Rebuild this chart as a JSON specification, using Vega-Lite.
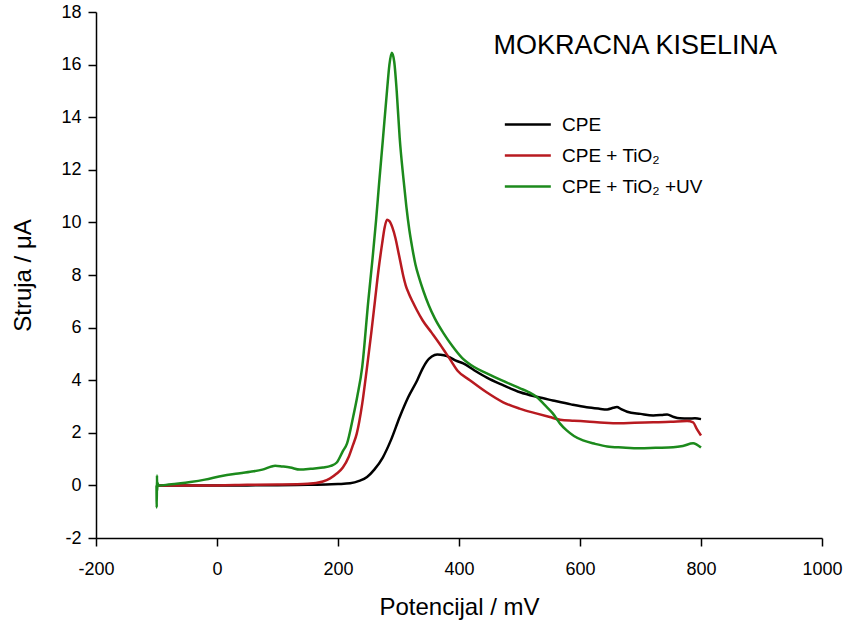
{
  "$schema": "https://vega.github.io/schema/vega-lite/v6.json",
  "width": 726,
  "height": 526,
  "autosize": "none",
  "padding": {"left": 96, "top": 12, "right": 23, "bottom": 90},
  "background": "white",
  "config": {
    "view": {"stroke": null},
    "font": "Liberation Sans",
    "axis": {
      "domainColor": "black", "domainWidth": 1.5,
      "tickColor": "black", "tickWidth": 1.5, "tickSize": 8,
      "labelFont": "Liberation Sans", "labelFontSize": 18, "labelColor": "black",
      "titleFont": "Liberation Sans", "titleFontSize": 24, "titleFontWeight": "normal", "titleColor": "black",
      "grid": false
    },
    "title": {"font": "Liberation Sans", "fontSize": 27, "fontWeight": "normal", "color": "black"}
  },
  "title": {"text": "MOKRACNA KISELINA", "anchor": "end", "orient": "top", "offset": -57, "dx": -45, "frame": "group"},
  "data": {"values": [
    {"s": "CPE", "x": -100, "y": 0},
    {"s": "CPE", "x": -50, "y": 0},
    {"s": "CPE", "x": 0, "y": 0},
    {"s": "CPE", "x": 50, "y": 0},
    {"s": "CPE", "x": 100, "y": 0.01},
    {"s": "CPE", "x": 150, "y": 0.02},
    {"s": "CPE", "x": 180, "y": 0.03},
    {"s": "CPE", "x": 200, "y": 0.05},
    {"s": "CPE", "x": 220, "y": 0.08},
    {"s": "CPE", "x": 235, "y": 0.17},
    {"s": "CPE", "x": 248, "y": 0.32},
    {"s": "CPE", "x": 260, "y": 0.6},
    {"s": "CPE", "x": 274, "y": 1.06},
    {"s": "CPE", "x": 288, "y": 1.75},
    {"s": "CPE", "x": 302, "y": 2.6},
    {"s": "CPE", "x": 316, "y": 3.35},
    {"s": "CPE", "x": 331, "y": 4.0},
    {"s": "CPE", "x": 340, "y": 4.45},
    {"s": "CPE", "x": 347, "y": 4.72},
    {"s": "CPE", "x": 355, "y": 4.9},
    {"s": "CPE", "x": 364, "y": 4.98},
    {"s": "CPE", "x": 375, "y": 4.95},
    {"s": "CPE", "x": 385, "y": 4.87},
    {"s": "CPE", "x": 395, "y": 4.74},
    {"s": "CPE", "x": 407, "y": 4.64},
    {"s": "CPE", "x": 425, "y": 4.38},
    {"s": "CPE", "x": 446, "y": 4.1},
    {"s": "CPE", "x": 470, "y": 3.84},
    {"s": "CPE", "x": 501, "y": 3.54},
    {"s": "CPE", "x": 530, "y": 3.36},
    {"s": "CPE", "x": 555, "y": 3.23},
    {"s": "CPE", "x": 585, "y": 3.08},
    {"s": "CPE", "x": 611, "y": 2.97},
    {"s": "CPE", "x": 630, "y": 2.92},
    {"s": "CPE", "x": 645, "y": 2.89},
    {"s": "CPE", "x": 655, "y": 2.95},
    {"s": "CPE", "x": 661, "y": 2.98},
    {"s": "CPE", "x": 668, "y": 2.9},
    {"s": "CPE", "x": 678, "y": 2.8},
    {"s": "CPE", "x": 700, "y": 2.72},
    {"s": "CPE", "x": 721, "y": 2.66},
    {"s": "CPE", "x": 735, "y": 2.68},
    {"s": "CPE", "x": 744, "y": 2.7},
    {"s": "CPE", "x": 755, "y": 2.6},
    {"s": "CPE", "x": 765, "y": 2.55},
    {"s": "CPE", "x": 780, "y": 2.54},
    {"s": "CPE", "x": 790, "y": 2.55},
    {"s": "CPE", "x": 800, "y": 2.52},

    {"s": "CPE + TiO₂", "x": -100, "y": 0},
    {"s": "CPE + TiO₂", "x": 0, "y": 0},
    {"s": "CPE + TiO₂", "x": 50, "y": 0.02},
    {"s": "CPE + TiO₂", "x": 100, "y": 0.03},
    {"s": "CPE + TiO₂", "x": 150, "y": 0.06},
    {"s": "CPE + TiO₂", "x": 175, "y": 0.15},
    {"s": "CPE + TiO₂", "x": 187, "y": 0.27},
    {"s": "CPE + TiO₂", "x": 198, "y": 0.45},
    {"s": "CPE + TiO₂", "x": 208, "y": 0.68},
    {"s": "CPE + TiO₂", "x": 218, "y": 1.1},
    {"s": "CPE + TiO₂", "x": 225, "y": 1.55},
    {"s": "CPE + TiO₂", "x": 231, "y": 1.97},
    {"s": "CPE + TiO₂", "x": 240, "y": 3.1},
    {"s": "CPE + TiO₂", "x": 248, "y": 4.5},
    {"s": "CPE + TiO₂", "x": 255, "y": 5.8},
    {"s": "CPE + TiO₂", "x": 261, "y": 7.0},
    {"s": "CPE + TiO₂", "x": 267, "y": 8.2},
    {"s": "CPE + TiO₂", "x": 273, "y": 9.2},
    {"s": "CPE + TiO₂", "x": 277, "y": 9.8},
    {"s": "CPE + TiO₂", "x": 281, "y": 10.1},
    {"s": "CPE + TiO₂", "x": 285, "y": 10.05},
    {"s": "CPE + TiO₂", "x": 290, "y": 9.8},
    {"s": "CPE + TiO₂", "x": 295, "y": 9.4},
    {"s": "CPE + TiO₂", "x": 300, "y": 8.85},
    {"s": "CPE + TiO₂", "x": 304, "y": 8.4},
    {"s": "CPE + TiO₂", "x": 308, "y": 7.95},
    {"s": "CPE + TiO₂", "x": 312, "y": 7.6},
    {"s": "CPE + TiO₂", "x": 317, "y": 7.3},
    {"s": "CPE + TiO₂", "x": 323, "y": 7.0},
    {"s": "CPE + TiO₂", "x": 330, "y": 6.68},
    {"s": "CPE + TiO₂", "x": 340, "y": 6.27},
    {"s": "CPE + TiO₂", "x": 355, "y": 5.8},
    {"s": "CPE + TiO₂", "x": 369, "y": 5.35},
    {"s": "CPE + TiO₂", "x": 385, "y": 4.8},
    {"s": "CPE + TiO₂", "x": 398, "y": 4.35},
    {"s": "CPE + TiO₂", "x": 418, "y": 4.0},
    {"s": "CPE + TiO₂", "x": 445, "y": 3.55},
    {"s": "CPE + TiO₂", "x": 473, "y": 3.16},
    {"s": "CPE + TiO₂", "x": 500, "y": 2.92},
    {"s": "CPE + TiO₂", "x": 529, "y": 2.73},
    {"s": "CPE + TiO₂", "x": 550, "y": 2.6},
    {"s": "CPE + TiO₂", "x": 567, "y": 2.5},
    {"s": "CPE + TiO₂", "x": 590, "y": 2.46},
    {"s": "CPE + TiO₂", "x": 611, "y": 2.43},
    {"s": "CPE + TiO₂", "x": 640, "y": 2.38},
    {"s": "CPE + TiO₂", "x": 666, "y": 2.36},
    {"s": "CPE + TiO₂", "x": 690, "y": 2.38},
    {"s": "CPE + TiO₂", "x": 721, "y": 2.4},
    {"s": "CPE + TiO₂", "x": 750, "y": 2.42},
    {"s": "CPE + TiO₂", "x": 777, "y": 2.45},
    {"s": "CPE + TiO₂", "x": 787, "y": 2.4},
    {"s": "CPE + TiO₂", "x": 793, "y": 2.15},
    {"s": "CPE + TiO₂", "x": 800, "y": 1.9},

    {"s": "CPE + TiO₂ +UV", "x": -100, "y": 0.0},
    {"s": "CPE + TiO₂ +UV", "x": -99.6, "y": -0.84},
    {"s": "CPE + TiO₂ +UV", "x": -99.2, "y": 0.38},
    {"s": "CPE + TiO₂ +UV", "x": -98.8, "y": -0.2},
    {"s": "CPE + TiO₂ +UV", "x": -98.4, "y": 0.1},
    {"s": "CPE + TiO₂ +UV", "x": -97, "y": 0.0},
    {"s": "CPE + TiO₂ +UV", "x": -80, "y": 0.03},
    {"s": "CPE + TiO₂ +UV", "x": -60, "y": 0.08},
    {"s": "CPE + TiO₂ +UV", "x": -44, "y": 0.13},
    {"s": "CPE + TiO₂ +UV", "x": -20, "y": 0.22},
    {"s": "CPE + TiO₂ +UV", "x": 10, "y": 0.37},
    {"s": "CPE + TiO₂ +UV", "x": 35, "y": 0.45},
    {"s": "CPE + TiO₂ +UV", "x": 55, "y": 0.52},
    {"s": "CPE + TiO₂ +UV", "x": 75, "y": 0.6},
    {"s": "CPE + TiO₂ +UV", "x": 90, "y": 0.72},
    {"s": "CPE + TiO₂ +UV", "x": 96, "y": 0.75},
    {"s": "CPE + TiO₂ +UV", "x": 108, "y": 0.72},
    {"s": "CPE + TiO₂ +UV", "x": 121, "y": 0.68},
    {"s": "CPE + TiO₂ +UV", "x": 137, "y": 0.6},
    {"s": "CPE + TiO₂ +UV", "x": 155, "y": 0.63},
    {"s": "CPE + TiO₂ +UV", "x": 175, "y": 0.68},
    {"s": "CPE + TiO₂ +UV", "x": 188, "y": 0.74},
    {"s": "CPE + TiO₂ +UV", "x": 198, "y": 0.87},
    {"s": "CPE + TiO₂ +UV", "x": 208, "y": 1.3},
    {"s": "CPE + TiO₂ +UV", "x": 215, "y": 1.6},
    {"s": "CPE + TiO₂ +UV", "x": 225, "y": 2.6},
    {"s": "CPE + TiO₂ +UV", "x": 232, "y": 3.4},
    {"s": "CPE + TiO₂ +UV", "x": 240, "y": 4.5},
    {"s": "CPE + TiO₂ +UV", "x": 250, "y": 7.0},
    {"s": "CPE + TiO₂ +UV", "x": 257, "y": 8.6},
    {"s": "CPE + TiO₂ +UV", "x": 263, "y": 10.1},
    {"s": "CPE + TiO₂ +UV", "x": 268, "y": 11.5},
    {"s": "CPE + TiO₂ +UV", "x": 274, "y": 13.1},
    {"s": "CPE + TiO₂ +UV", "x": 281, "y": 15.0},
    {"s": "CPE + TiO₂ +UV", "x": 285, "y": 16.0},
    {"s": "CPE + TiO₂ +UV", "x": 289, "y": 16.45},
    {"s": "CPE + TiO₂ +UV", "x": 293, "y": 16.1},
    {"s": "CPE + TiO₂ +UV", "x": 297, "y": 15.0},
    {"s": "CPE + TiO₂ +UV", "x": 302, "y": 13.2},
    {"s": "CPE + TiO₂ +UV", "x": 308, "y": 11.7},
    {"s": "CPE + TiO₂ +UV", "x": 313, "y": 10.6},
    {"s": "CPE + TiO₂ +UV", "x": 318, "y": 9.7},
    {"s": "CPE + TiO₂ +UV", "x": 323, "y": 9.0},
    {"s": "CPE + TiO₂ +UV", "x": 328, "y": 8.4},
    {"s": "CPE + TiO₂ +UV", "x": 334, "y": 7.9},
    {"s": "CPE + TiO₂ +UV", "x": 341, "y": 7.4},
    {"s": "CPE + TiO₂ +UV", "x": 350, "y": 6.85},
    {"s": "CPE + TiO₂ +UV", "x": 360, "y": 6.35},
    {"s": "CPE + TiO₂ +UV", "x": 374, "y": 5.8},
    {"s": "CPE + TiO₂ +UV", "x": 389, "y": 5.3},
    {"s": "CPE + TiO₂ +UV", "x": 405, "y": 4.85},
    {"s": "CPE + TiO₂ +UV", "x": 425, "y": 4.5},
    {"s": "CPE + TiO₂ +UV", "x": 446, "y": 4.26},
    {"s": "CPE + TiO₂ +UV", "x": 470, "y": 4.0},
    {"s": "CPE + TiO₂ +UV", "x": 501, "y": 3.69},
    {"s": "CPE + TiO₂ +UV", "x": 515, "y": 3.55},
    {"s": "CPE + TiO₂ +UV", "x": 529, "y": 3.35},
    {"s": "CPE + TiO₂ +UV", "x": 542, "y": 3.05},
    {"s": "CPE + TiO₂ +UV", "x": 555, "y": 2.74},
    {"s": "CPE + TiO₂ +UV", "x": 567, "y": 2.35},
    {"s": "CPE + TiO₂ +UV", "x": 578, "y": 2.09},
    {"s": "CPE + TiO₂ +UV", "x": 590, "y": 1.88},
    {"s": "CPE + TiO₂ +UV", "x": 605, "y": 1.71},
    {"s": "CPE + TiO₂ +UV", "x": 625, "y": 1.58},
    {"s": "CPE + TiO₂ +UV", "x": 645, "y": 1.48},
    {"s": "CPE + TiO₂ +UV", "x": 670, "y": 1.44},
    {"s": "CPE + TiO₂ +UV", "x": 699, "y": 1.41},
    {"s": "CPE + TiO₂ +UV", "x": 725, "y": 1.43},
    {"s": "CPE + TiO₂ +UV", "x": 754, "y": 1.45},
    {"s": "CPE + TiO₂ +UV", "x": 770, "y": 1.5},
    {"s": "CPE + TiO₂ +UV", "x": 787, "y": 1.6},
    {"s": "CPE + TiO₂ +UV", "x": 793, "y": 1.55},
    {"s": "CPE + TiO₂ +UV", "x": 800, "y": 1.44}
  ]},
  "mark": {"type": "line", "strokeWidth": 2.5, "interpolate": "monotone"},
  "encoding": {
    "x": {"field": "x", "type": "quantitative",
      "scale": {"domain": [-200, 1000], "nice": false, "zero": false},
      "axis": {"values": [-200, 0, 200, 400, 600, 800, 1000], "labelExpr": "datum.value + ''", "title": "Potencijal / mV", "labelPadding": 14, "titlePadding": 17, "labelFlush": false}},
    "y": {"field": "y", "type": "quantitative",
      "scale": {"domain": [-2, 18], "nice": false, "zero": false},
      "axis": {"values": [-2, 0, 2, 4, 6, 8, 10, 12, 14, 16, 18], "labelExpr": "datum.value + ''", "title": "Struja / μA", "labelPadding": 7, "titlePadding": 25, "labelFlush": false}},
    "color": {"field": "s", "type": "nominal",
      "scale": {"domain": ["CPE", "CPE + TiO₂", "CPE + TiO₂ +UV"], "range": ["#000000", "#b81a20", "#1c8a1c"]},
      "legend": {"title": null, "orient": "none", "legendX": 407, "legendY": 103,
        "symbolType": "M-1,0H5", "symbolSize": 235, "symbolStrokeWidth": 2.5,
        "labelFontSize": 19, "labelFont": "Liberation Sans", "labelColor": "black",
        "labelOffset": 40, "rowPadding": 11, "padding": 0}}
  }
}
